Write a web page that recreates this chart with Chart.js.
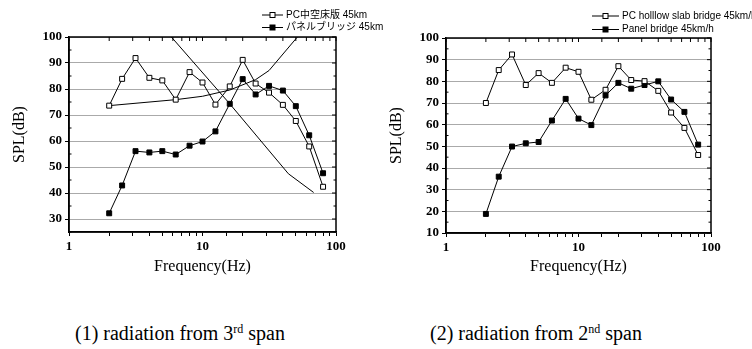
<!DOCTYPE html>
<html>
<head>
<meta charset="utf-8">
<script src="https://cdn.jsdelivr.net/npm/chart.js@4/dist/chart.umd.min.js"></script>
<style>
  body { margin: 0; background: #fff; width: 752px; height: 349px; overflow: hidden; position: relative; }
  canvas { position: absolute; top: 0; }
  #leftChart { left: 0; }
  #rightChart { left: 376px; }
  .cap { position: absolute; top: 322px; font: 20px/22px "Liberation Serif", serif; color: #000; white-space: nowrap; }
  .cap sup { font-size: 12px; line-height: 0; vertical-align: 7px; }
</style>
</head>
<body>
<canvas id="leftChart" width="420" height="280"></canvas>
<canvas id="rightChart" width="376" height="280"></canvas>
<div class="cap" style="left:75px">(1) radiation from 3<sup>rd</sup> span</div>
<div class="cap" style="left:430px">(2) radiation from 2<sup>nd</sup> span</div>
<script>
// 1/3 octave band centre frequencies (Hz)
const freqs = [2, 2.5, 3.15, 4, 5, 6.3, 8, 10, 12.5, 16, 20, 25, 31.5, 40, 50, 63, 80];

// (1) 3rd span
const pcSlab3 = [73.6, 83.9, 91.9, 84.3, 83.3, 75.9, 86.5, 82.5, 74.0, 81.0, 91.2, 82.1, 78.6, 73.9, 67.7, 57.9, 42.4];
const panel3 = [32.2, 42.9, 56.1, 55.6, 56.1, 54.8, 58.2, 59.8, 63.7, 74.3, 83.8, 77.9, 81.2, 79.4, 73.4, 62.2, 47.6];
// the two plain curves drawn over the left plot
const riseF = [2, 6.3, 10, 16, 25, 31.5, 55];
const riseDb = [73.6, 75.9, 77.2, 79.6, 83.6, 87.1, 101.8];
const fallF = [5, 16, 44, 68];
const fallDb = [104, 74.3, 47.4, 40.2];

// (2) 2nd span
const pcSlab2 = [70.0, 85.2, 92.4, 78.3, 83.8, 79.3, 86.3, 84.4, 71.5, 76.1, 87.0, 80.6, 80.1, 75.6, 65.6, 58.5, 46.0];
const panel2 = [18.8, 36.0, 49.9, 51.4, 52.0, 61.9, 71.9, 62.8, 59.8, 73.5, 79.3, 76.6, 78.3, 80.0, 71.6, 65.9, 50.8];

const legend3 = ['PC中空床版 45km', 'パネルブリッジ 45km'];
const legend2 = ['PC holllow slab bridge 45km/h', 'Panel bridge 45km/h'];
const majorX = [1, 10, 100];

const tickFont = { family: 'Liberation Serif', size: 13, weight: 'bold' };
const titleFont = { family: 'Liberation Serif', size: 16 };

function pts(xs, ys) {
    return xs.map((f, i) => ({ x: f, y: ys[i] }));
}

function markerSet(values, fill) {
    return {
        data: pts(freqs, values),
        borderColor: '#000',
        borderWidth: 1,
        pointStyle: 'rect',
        pointRadius: 3.5,
        pointBackgroundColor: fill,
        pointBorderColor: '#000',
        pointBorderWidth: 1,
        tension: 0
    };
}

function plainSet(xs, ys) {
    return { data: pts(xs, ys), borderColor: '#000', borderWidth: 1, pointRadius: 0, tension: 0 };
}

// box round the plot plus the inward ticks on top and right
const framePlugin = {
    id: 'frame',
    afterDatasetsDraw(chart) {
        const { ctx, chartArea: a, scales: { x, y } } = chart;
        ctx.save();
        ctx.strokeStyle = '#000';
        ctx.lineWidth = 1.5;
        ctx.strokeRect(a.left, a.top, a.right - a.left, a.bottom - a.top);
        ctx.lineWidth = 1;
        ctx.beginPath();
        x.ticks.forEach(t => {
            const px = x.getPixelForValue(t.value);
            ctx.moveTo(px, a.top);
            ctx.lineTo(px, a.top + 4);
        });
        for (let v = Math.ceil(y.min / 5) * 5; v <= y.max; v += 5) {
            const py = y.getPixelForValue(v);
            const len = v % 10 ? 2.5 : 4;
            ctx.moveTo(a.right, py);
            ctx.lineTo(a.right - len, py);
            if (v % 10) {
                ctx.moveTo(a.left, py);
                ctx.lineTo(a.left + len, py);
            }
        }
        ctx.stroke();
        ctx.restore();
    }
};

// small legend placed by hand, like the original figure
const keyPlugin = {
    id: 'key',
    afterDraw(chart, args, opts) {
        const { ctx } = chart;
        ctx.save();
        ctx.font = '10px "Liberation Sans", "Noto Sans CJK JP", sans-serif';
        ctx.textBaseline = 'middle';
        ctx.fillStyle = '#000';
        opts.labels.forEach((label, i) => {
            const y = opts.rows[i];
            const mid = (opts.x0 + opts.x1) / 2;
            ctx.strokeStyle = '#000';
            ctx.lineWidth = 1;
            ctx.beginPath();
            ctx.moveTo(opts.x0, y);
            ctx.lineTo(opts.x1, y);
            ctx.stroke();
            ctx.fillStyle = i === 0 ? '#fff' : '#000';
            ctx.fillRect(mid - 2.5, y - 2.5, 5, 5);
            ctx.strokeRect(mid - 2.5, y - 2.5, 5, 5);
            ctx.fillStyle = '#000';
            ctx.fillText(label, opts.tx, y);
        });
        ctx.restore();
    }
};

function buildChart(id, datasets, yMin, pad, xHeight, key) {
    return new Chart(document.getElementById(id), {
        type: 'line',
        data: { datasets },
        plugins: [framePlugin, keyPlugin],
        options: {
            responsive: false,
            animation: false,
            layout: { padding: pad },
            plugins: { legend: { display: false }, tooltip: { enabled: false }, key },
            scales: {
                x: {
                    type: 'logarithmic',
                    min: 1,
                    max: 100,
                    afterFit: s => { s.height = xHeight; },
                    border: { color: '#000', width: 1.5 },
                    grid: { drawOnChartArea: false, tickColor: '#000', tickLength: 4, tickWidth: 1 },
                    ticks: {
                        autoSkip: false,
                        maxRotation: 0,
                        color: '#000',
                        padding: 3,
                        font: tickFont,
                        callback: v => majorX.includes(Math.round(v * 1000) / 1000) ? String(v) : ''
                    },
                    title: { display: true, text: 'Frequency(Hz)', color: '#000', font: titleFont, padding: { top: 0, bottom: 4 } }
                },
                y: {
                    min: yMin,
                    max: 100,
                    afterBuildTicks: s => {
                        const ticks = [];
                        for (let v = Math.ceil(s.min / 10) * 10; v <= s.max; v += 10) ticks.push({ value: v });
                        s.ticks = ticks;
                    },
                    afterFit: s => { s.width = 69; },
                    border: { color: '#000', width: 1.5 },
                    grid: { color: '#aaa', borderDash: [1, 2], tickColor: '#000', tickBorderDash: [], tickLength: 4 },
                    ticks: { stepSize: 10, color: '#000', padding: 3, font: tickFont },
                    title: { display: true, text: 'SPL(dB)', color: '#000', font: titleFont, padding: { top: 10, bottom: 0 } }
                }
            }
        }
    });
}

buildChart('leftChart', [
    markerSet(pcSlab3, '#fff'),
    markerSet(panel3, '#000'),
    plainSet(riseF, riseDb),
    plainSet(fallF, fallDb)
], 25, { left: 0, top: 37, right: 84, bottom: 0 }, 48,
   { labels: legend3, x0: 262, x1: 283, tx: 286, rows: [15, 27.5] });

buildChart('rightChart', [
    markerSet(pcSlab2, '#fff'),
    markerSet(panel2, '#000')
], 10, { left: 1, top: 38, right: 41, bottom: 0 }, 47,
   { labels: legend2, x0: 216, x1: 243, tx: 246, rows: [16, 29.5] });
</script>
</body>
</html>
